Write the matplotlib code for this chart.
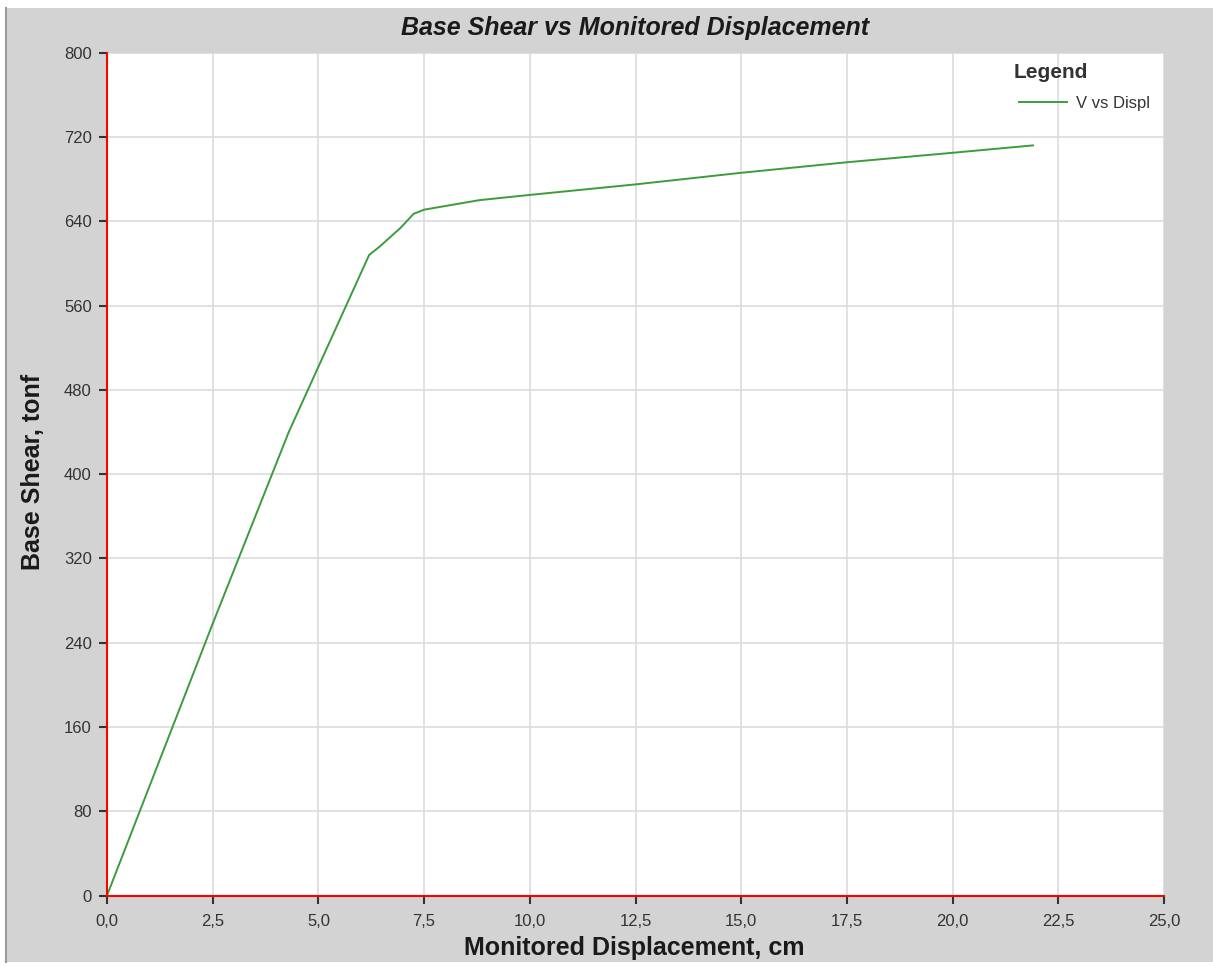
import matplotlib
matplotlib.use("Agg")
import matplotlib.pyplot as plt
from matplotlib.patches import Rectangle
from matplotlib.ticker import FuncFormatter, MultipleLocator

plt.rcParams['font.family'] = ['Liberation Sans', 'DejaVu Sans']

# Data
displ_cm = [0.0, 2.5, 4.3, 6.2, 6.45, 6.95, 7.25, 7.5, 8.8, 10.0, 12.5, 15.0, 17.5, 20.0, 21.9]
shear_tonf = [0, 258, 440, 608, 616, 634, 647, 651, 660, 665, 675, 686, 696, 705, 712]
series_label = "V vs Displ"
title = "Base Shear vs Monitored Displacement"
xlabel = "Monitored Displacement, cm"
ylabel = "Base Shear, tonf"

W, H = 1213, 967
fig = plt.figure(figsize=(W / 100, H / 100), dpi=100, facecolor='white')

# gray panel background
bg = Rectangle((5 / W, 5 / H), (W - 5) / W, (H - 13) / H,
               transform=fig.transFigure, facecolor='#d3d3d3',
               edgecolor='none', zorder=-10)
fig.patches.append(bg)
fig.lines.append(plt.Line2D([5.5 / W, 5.5 / W], [5 / H, (H - 8) / H],
                            transform=fig.transFigure, color='#9a9a9a', lw=1.5,
                            zorder=-9))

left, right = 107 / W, 1164 / W
bottom, top = (H - 895.5) / H, (H - 52.7) / H
ax = fig.add_axes([left, bottom, right - left, top - bottom])
ax.set_zorder(1)
ax.set_facecolor('white')

ax.plot(displ_cm, shear_tonf, color='#3c9c3c', lw=1.4, label=series_label, zorder=3)

ax.set_xlim(0, 25)
ax.set_ylim(0, 800)
ax.xaxis.set_major_locator(MultipleLocator(2.5))
ax.yaxis.set_major_locator(MultipleLocator(80))
ax.xaxis.set_major_formatter(FuncFormatter(lambda v, p: f"{v:.1f}".replace('.', ',')))
ax.yaxis.set_major_formatter(FuncFormatter(lambda v, p: f"{v:.0f}"))

ax.grid(True, color='#dcdcdc', lw=1.2, zorder=0)
ax.set_axisbelow(True)

for s in ['top', 'right']:
    ax.spines[s].set_visible(False)
for s in ['left', 'bottom']:
    ax.spines[s].set_color('red')
    ax.spines[s].set_linewidth(1.5)
    ax.spines[s].set_zorder(4)

ax.tick_params(axis='both', direction='out', length=6, width=1.5, color='#333333',
               labelsize=12, labelcolor='#333333')
ax.tick_params(axis='x', pad=7)
ax.tick_params(axis='y', pad=5)

fig.text((left + right) / 2, (H - 28) / H, title, ha='center', va='center',
         fontsize=18, fontweight='bold', fontstyle='italic', color='#1a1a1a')
fig.text((463 + 805) / 2 / W, (H - 948) / H, xlabel, ha='center', va='center',
         fontsize=18, fontweight='bold', color='#1a1a1a')
fig.text(33 / W, (H - 472) / H, ylabel, ha='center', va='center', rotation=90,
         fontsize=18, fontweight='bold', color='#1a1a1a')

leg = ax.legend(loc='upper right', bbox_to_anchor=(0.9868, 0.9486), frameon=False,
                fontsize=12, handlelength=2.9, handletextpad=0.55,
                borderaxespad=0, borderpad=0)
for t in leg.get_texts():
    t.set_color('#333333')
ax.text(0.893, 0.977, 'Legend', transform=ax.transAxes, ha='center', va='center',
        fontsize=15, fontweight='bold', color='#333333')

fig.savefig('out.png', dpi=100, facecolor='white')
